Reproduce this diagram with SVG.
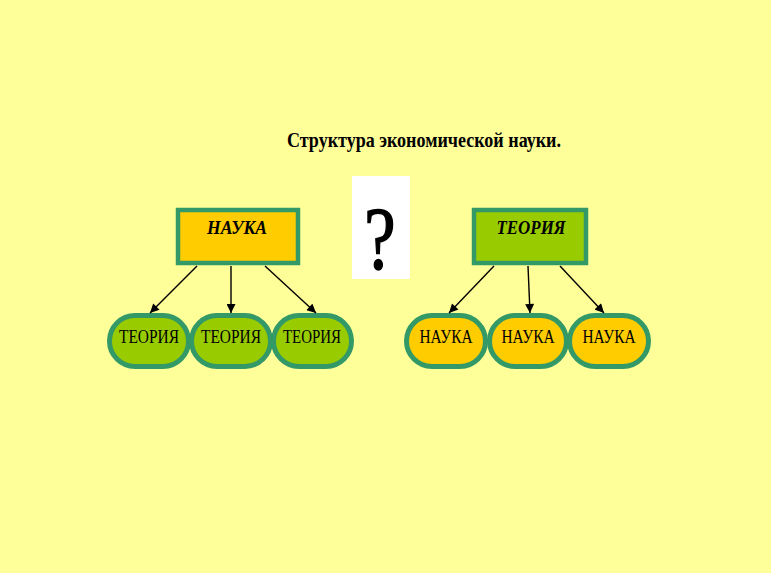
<svg xmlns="http://www.w3.org/2000/svg" width="771" height="573" viewBox="0 0 771 573">
<defs>
<style>
.bg{fill:#FFFF99}
.box{stroke:#339966;stroke-width:4.5}
.y{fill:#FFCC00}
.g{fill:#99CC00}
.pill{stroke:#339966;stroke-width:5}
.t{font-family:"Liberation Serif",serif;fill:#000;text-anchor:middle}
.top{font-size:19px;font-weight:bold;font-style:italic}
.pt{font-size:19px}
.conn line{stroke:#000;stroke-width:1.4;marker-end:url(#ah)}
</style>
<marker id="ah" viewBox="0 0 10 10" refX="10" refY="5" markerWidth="10" markerHeight="9" markerUnits="userSpaceOnUse" orient="auto">
<path d="M0,0 L10,5 L0,10 z" fill="#000"/>
</marker>
</defs>
<rect class="bg" x="0" y="0" width="771" height="573"/>
<text class="t" x="424" y="147" font-size="21" font-weight="bold" textLength="274" lengthAdjust="spacingAndGlyphs">Структура экономической науки.</text>
<g id="question">
<rect x="352" y="176" width="58" height="103" fill="#fff"/>
<text class="t" transform="translate(380,268) scale(0.8,1)" font-size="88" stroke="#000" stroke-width="1.5">?</text>
</g>
<g id="nauka-top">
<rect class="box y" x="178" y="210" width="120" height="53"/>
<text class="t top" x="237" y="234" textLength="60" lengthAdjust="spacingAndGlyphs">НАУКА</text>
</g>
<g id="teoriya-top">
<rect class="box g" x="474" y="210" width="112" height="53"/>
<text class="t top" x="531" y="234" textLength="69" lengthAdjust="spacingAndGlyphs">ТЕОРИЯ</text>
</g>
<g id="teoriya-1">
<rect class="pill g" x="109.5" y="315.5" width="79" height="51" rx="25.5"/>
<text class="t pt" x="149" y="343" textLength="60" lengthAdjust="spacingAndGlyphs">ТЕОРИЯ</text>
</g>
<g id="teoriya-2">
<rect class="pill g" x="191.5" y="315.5" width="79" height="51" rx="25.5"/>
<text class="t pt" x="231" y="343" textLength="60" lengthAdjust="spacingAndGlyphs">ТЕОРИЯ</text>
</g>
<g id="teoriya-3">
<rect class="pill g" x="273.5" y="315.5" width="78" height="51" rx="25.5"/>
<text class="t pt" x="312" y="343" textLength="58" lengthAdjust="spacingAndGlyphs">ТЕОРИЯ</text>
</g>
<g id="nauka-1">
<rect class="pill y" x="406.5" y="315.5" width="79" height="51" rx="25.5"/>
<text class="t pt" x="446" y="343" textLength="53" lengthAdjust="spacingAndGlyphs">НАУКА</text>
</g>
<g id="nauka-2">
<rect class="pill y" x="489.5" y="315.5" width="77" height="51" rx="25.5"/>
<text class="t pt" x="528" y="343" textLength="53" lengthAdjust="spacingAndGlyphs">НАУКА</text>
</g>
<g id="nauka-3">
<rect class="pill y" x="569.5" y="315.5" width="79" height="51" rx="25.5"/>
<text class="t pt" x="609" y="343" textLength="53" lengthAdjust="spacingAndGlyphs">НАУКА</text>
</g>
<g id="connectors" class="conn">
<line x1="197" y1="266" x2="150" y2="313"/>
<line x1="231" y1="266" x2="231" y2="313"/>
<line x1="265" y1="266" x2="316" y2="313"/>
<line x1="494" y1="266" x2="449" y2="313"/>
<line x1="528" y1="266" x2="530" y2="313"/>
<line x1="560" y1="266" x2="604" y2="313"/>
</g>
</svg>
